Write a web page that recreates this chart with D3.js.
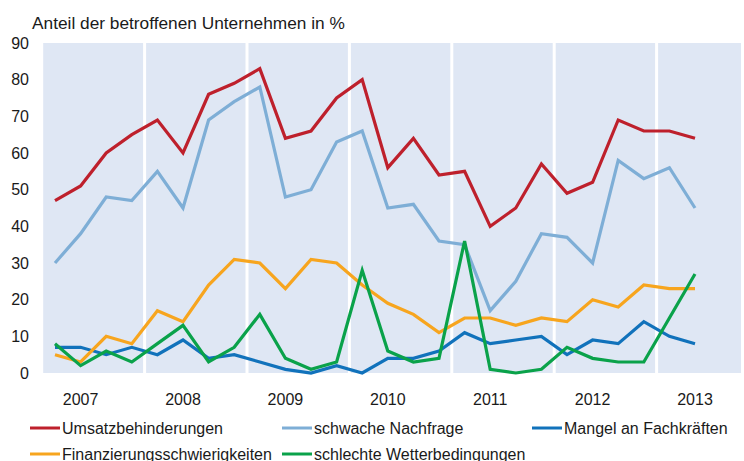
<!DOCTYPE html>
<html>
<head>
<meta charset="utf-8">
<script src="https://cdn.jsdelivr.net/npm/d3@7"></script>
<style>
  body { margin: 0; background: #fff; }
  svg { display: block; font-family: "Liberation Sans", Arial, sans-serif; }
</style>
</head>
<body>
<div class="chart"></div>
<script>
const years = [2007, 2008, 2009, 2010, 2011, 2012, 2013];
const yTicks = [0, 10, 20, 30, 40, 50, 60, 70, 80, 90];

const umsatz     = [47, 51, 60, 65, 69, 60, 76, 79, 83, 64, 66, 75, 80, 56, 64, 54, 55, 40, 45, 57, 49, 52, 69, 66, 66, 64];
const nachfrage  = [30, 38, 48, 47, 55, 45, 69, 74, 78, 48, 50, 63, 66, 45, 46, 36, 35, 17, 25, 38, 37, 30, 58, 53, 56, 45];
const fachkraft  = [7, 7, 5, 7, 5, 9, 4, 5, 3, 1, 0, 2, 0, 4, 4, 6, 11, 8, 9, 10, 5, 9, 8, 14, 10, 8];
const finanz     = [5, 3, 10, 8, 17, 14, 24, 31, 30, 23, 31, 30, 24, 19, 16, 11, 15, 15, 13, 15, 14, 20, 18, 24, 23, 23];
const wetter     = [8, 2, 6, 3, 8, 13, 3, 7, 16, 4, 1, 3, 28, 6, 3, 4, 36, 1, 0, 1, 7, 4, 3, 3, 15, 27];

const series = [
  {name: "Umsatzbehinderungen", values: umsatz, color: "#be202c"},
  {name: "schwache Nachfrage", values: nachfrage, color: "#7eaed6"},
  {name: "Mangel an Fachkräften", values: fachkraft, color: "#1172bb"},
  {name: "Finanzierungsschwierigkeiten", values: finanz, color: "#f7a51e"},
  {name: "schlechte Wetterbedingungen", values: wetter, color: "#0aa24a"}
];

const width = 744, height = 461;

// one band per quarter, 4 per year
const quarters = years.flatMap(y => [1, 2, 3, 4].map(q => y + "Q" + q));

const x = d3.scaleBand()
    .domain(quarters)
    .range([42.2, 42.2 + 25.6 * quarters.length]);

const y = d3.scaleLinear()
    .domain([0, 90])
    .range([373, 43]);

const svg = d3.select(".chart").append("svg")
    .attr("width", width)
    .attr("height", height);

svg.append("clipPath").attr("id", "plotclip")
  .append("rect")
    .attr("x", 0).attr("y", 0)
    .attr("width", 741).attr("height", height);

// background bands per year
svg.append("g")
    .attr("clip-path", "url(#plotclip)")
  .selectAll("rect")
  .data(years)
  .join("rect")
    .attr("x", (d, i) => x(d + "Q1") + (i == 0 ? 1 : 1.5))
    .attr("y", y(90))
    .attr("width", (d, i) => x.bandwidth() * 4 - (i == 0 ? 2.5 : 3))
    .attr("height", y(0) - y(90))
    .attr("fill", "#dfe7f4");

// y axis labels
svg.append("g")
  .selectAll("text")
  .data(yTicks)
  .join("text")
    .attr("x", 29)
    .attr("y", d => y(d))
    .attr("dy", "0.36em")
    .attr("text-anchor", "end")
    .attr("font-size", 16)
    .attr("fill", "#1a1a1a")
    .text(d => d);

// year labels (placed under 2nd quarter)
svg.append("g")
  .selectAll("text")
  .data(years)
  .join("text")
    .attr("x", d => x(d + "Q2") + x.bandwidth() / 2)
    .attr("y", 405)
    .attr("text-anchor", "middle")
    .attr("font-size", 16)
    .attr("fill", "#1a1a1a")
    .text(d => d);

// title
svg.append("text")
    .attr("x", 32)
    .attr("y", 28.5)
    .attr("font-size", 17.3)
    .attr("fill", "#1a1a1a")
    .text("Anteil der betroffenen Unternehmen in %");

const line = d3.line()
    .x((d, i) => x(quarters[i]) + x.bandwidth() / 2)
    .y(d => y(d));

svg.append("g")
  .selectAll("path")
  .data(series)
  .join("path")
    .attr("d", d => line(d.values))
    .attr("fill", "none")
    .attr("stroke", d => d.color)
    .attr("stroke-width", 3.2)
    .attr("stroke-linejoin", "miter");

// legend
const legPos = [[30, 428], [282, 428], [532, 428], [30, 454], [282, 454]];

const leg = svg.append("g")
  .selectAll("g")
  .data(series)
  .join("g")
    .attr("transform", (d, i) => `translate(${legPos[i][0]},${legPos[i][1]})`);

leg.append("line")
    .attr("x1", 0).attr("x2", 30)
    .attr("stroke", d => d.color)
    .attr("stroke-width", 3);

leg.append("text")
    .attr("x", 32)
    .attr("dy", "0.36em")
    .attr("font-size", 16)
    .attr("fill", "#1a1a1a")
    .text(d => d.name);
</script>
</body>
</html>
